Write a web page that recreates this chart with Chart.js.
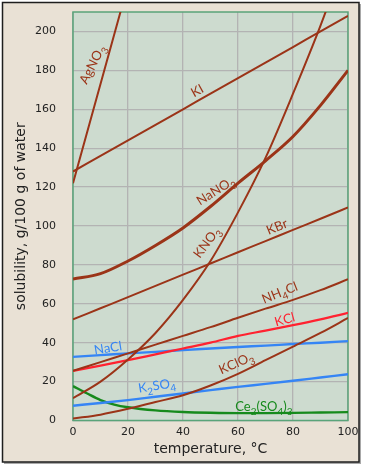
<!DOCTYPE html>
<html>
<head>
<meta charset="utf-8">
<script src="https://cdn.jsdelivr.net/npm/chart.js@4.4.0/dist/chart.umd.min.js"></script>
<style>
html, body { margin: 0; padding: 0; background: #fff; }
canvas { display: block; }
</style>
</head>
<body>
<canvas id="myChart" width="375" height="466"></canvas>
<script>
// temperatures (°C) and solubilities (g / 100 g water)
const temps = [0, 10, 20, 30, 40, 50, 60, 70, 80, 90, 100]
const agno3Temps = [0, 10, 20]
const agno3 = [122, 173, 224]
const ki = [128, 136, 144, 152, 160, 168, 176, 184, 192, 200, 208]
const nano3 = [72.7, 75.5, 82, 90, 99, 110, 122, 133.5, 146, 162, 180]
const kno3 = [11.5, 20, 31.4, 45, 62, 82, 107, 135, 168, 203, 242]
const kbr = [52, 57.7, 63.4, 69.2, 75, 80.7, 86.5, 92.2, 98, 103.7, 109.5]
const nh4cl = [25.5, 30, 34.5, 39, 43.5, 48, 52.8, 57.5, 62, 67, 72.6]
const kcl = [25.5, 28.2, 31, 34, 37, 40, 43.5, 46.2, 49, 52, 55.3]
const kclo3 = [1, 3, 6, 9.5, 13, 18, 24, 31, 38, 45, 52.7]
const nacl = [32.7, 33.6, 34.5, 35.3, 36.2, 37, 37.8, 38.5, 39.3, 40, 40.8]
const k2so4 = [7.6, 9, 10.5, 12.2, 13.9, 15.6, 17.3, 18.8, 20.4, 22.1, 23.8]
const ceTemps = [0, 5, 10, 15, 20, 30, 40, 50, 60, 70, 80, 90, 100]
const ce2so43 = [17.7, 14, 10.5, 8.2, 6.8, 5.2, 4.4, 4, 3.8, 3.8, 3.9, 4.1, 4.3]

const xTicks = [0, 20, 40, 60, 80, 100]
const yTicks = [0, 20, 40, 60, 80, 100, 120, 140, 160, 180, 200]

// curve labels ("_" marks a subscript character), placed in data units
const labelText = ['AgNO_3', 'KI', 'NaNO_3', 'KNO_3', 'KBr', 'NH_4Cl', 'KCl', 'NaCl', 'KClO_3', 'K_2SO_4', 'Ce_2(SO_4)_3']
const labelX = [7.1, 45.2, 51.9, 48.7, 74.2, 75.2, 77, 12.7, 59.4, 30.5, 69.4]
const labelY = [183, 169.5, 118, 91.5, 99.5, 65.6, 51.8, 37.2, 29.4, 17.9, 6.8]
const labelAngle = [-63, -29, -32, -53, -22, -22, -16, -9, -24, -9, 0]

const brown = '#9b3418'
const red = '#ff2230'
const blue = '#3585f5'
const green = '#168a1c'
const labelColor = [brown, brown, brown, brown, brown, brown, red, blue, brown, blue, green]

function series(label, xs, ys, color, width) {
    return {
        label: label,
        data: xs.map((x, i) => ({ x: x, y: ys[i] })),
        borderColor: color,
        borderWidth: width,
        pointRadius: 0,
        fill: false,
        cubicInterpolationMode: 'monotone'
    }
}

const datasets = [
    series('AgNO3', agno3Temps, agno3, brown, 2),
    series('KI', temps, ki, brown, 2),
    series('NaNO3', temps, nano3, brown, 3),
    series('KNO3', temps, kno3, brown, 2),
    series('KBr', temps, kbr, brown, 2),
    series('NH4Cl', temps, nh4cl, brown, 2),
    series('KCl', temps, kcl, red, 2.2),
    series('KClO3', temps, kclo3, brown, 2),
    series('NaCl', temps, nacl, blue, 2.4),
    series('K2SO4', temps, k2so4, blue, 2.4),
    series('Ce2(SO4)3', ceTemps, ce2so43, green, 2.4)
]

// beige frame + plot background
const frame = {
    id: 'frame',
    beforeDraw(chart) {
        const ctx = chart.ctx
        const a = chart.chartArea
        ctx.save()
        ctx.fillStyle = '#ffffff'
        ctx.fillRect(0, 0, chart.width, chart.height)
        ctx.fillStyle = '#a8a8a8'
        ctx.fillRect(4, 4, 357, 460)
        ctx.fillStyle = '#e9e1d5'
        ctx.fillRect(2, 2, 357, 460)
        ctx.strokeStyle = '#1e1e1e'
        ctx.lineWidth = 1.5
        ctx.strokeRect(2.5, 2.5, 356.5, 459.5)
        ctx.fillStyle = '#cddbcf'
        ctx.fillRect(a.left, a.top, a.width, a.height)
        ctx.restore()
    },
    beforeDatasetsDraw(chart) {
        const ctx = chart.ctx
        const a = chart.chartArea
        ctx.save()
        ctx.strokeStyle = '#5aa47a'
        ctx.lineWidth = 1.5
        ctx.strokeRect(a.left, a.top, a.width, a.height)
        ctx.restore()
    }
}

function drawRich(ctx, text, size) {
    const parts = []
    for (let i = 0; i < text.length; i++) {
        if (text[i] === '_') {
            parts.push([text[i + 1], true])
            i++
        } else {
            parts.push([text[i], false])
        }
    }
    const big = size + 'px Lato, "Open Sans", sans-serif'
    const small = Math.round(size * 0.78) + 'px Lato, "Open Sans", sans-serif'
    let total = 0
    parts.forEach(p => {
        ctx.font = p[1] ? small : big
        total += ctx.measureText(p[0]).width
    })
    let x = -total / 2
    parts.forEach(p => {
        ctx.font = p[1] ? small : big
        ctx.fillText(p[0], x, p[1] ? size * 0.38 : 0)
        x += ctx.measureText(p[0]).width
    })
}

const curveLabels = {
    id: 'curveLabels',
    afterDatasetsDraw(chart) {
        const ctx = chart.ctx
        const xs = chart.scales.x
        const ys = chart.scales.y
        ctx.save()
        ctx.textBaseline = 'middle'
        ctx.textAlign = 'left'
        labelText.forEach((t, i) => {
            ctx.save()
            ctx.translate(xs.getPixelForValue(labelX[i]), ys.getPixelForValue(labelY[i]))
            ctx.rotate(labelAngle[i] * Math.PI / 180)
            ctx.fillStyle = labelColor[i]
            drawRich(ctx, t, 13)
            ctx.restore()
        })
        ctx.restore()
    }
}

const tickFont = { family: '"DejaVu Sans", sans-serif', size: 11 }
const titleFont = { family: '"DejaVu Sans", sans-serif', size: 14 }

const config = {
    type: 'line',
    data: { datasets },
    options: {
        responsive: false,
        animation: false,
        layout: { padding: { left: 0, top: 12, right: 27, bottom: 0 } },
        plugins: {
            legend: { display: false },
            tooltip: { enabled: false }
        },
        scales: {
            x: {
                type: 'linear',
                min: 0,
                max: 100,
                afterBuildTicks: s => { s.ticks = xTicks.map(v => ({ value: v })) },
                afterFit: s => {
                    s.height = 45.5
                    s.paddingLeft = 0
                    s.paddingRight = 0
                },
                ticks: { font: tickFont, color: '#222', padding: 5 },
                grid: { color: '#b3b3b3', lineWidth: 1.3, drawTicks: false },
                border: { display: false },
                title: {
                    display: true,
                    text: 'temperature, °C',
                    font: titleFont,
                    color: '#222',
                    padding: { top: 0, bottom: 8.5 }
                }
            },
            y: {
                min: 0,
                max: 210,
                afterBuildTicks: s => { s.ticks = yTicks.map(v => ({ value: v })) },
                afterFit: s => {
                    s.width = 73
                    s.paddingTop = 0
                    s.paddingBottom = 0
                },
                ticks: { font: tickFont, color: '#222', padding: 17 },
                grid: { color: '#b3b3b3', lineWidth: 1.3, drawTicks: false },
                border: { display: false },
                title: {
                    display: true,
                    text: 'solubility, g/100 g of water',
                    font: titleFont,
                    color: '#222',
                    padding: { top: 12.5, bottom: 0 }
                }
            }
        }
    },
    plugins: [frame, curveLabels]
}

new Chart(document.getElementById('myChart'), config)
</script>
</body>
</html>
